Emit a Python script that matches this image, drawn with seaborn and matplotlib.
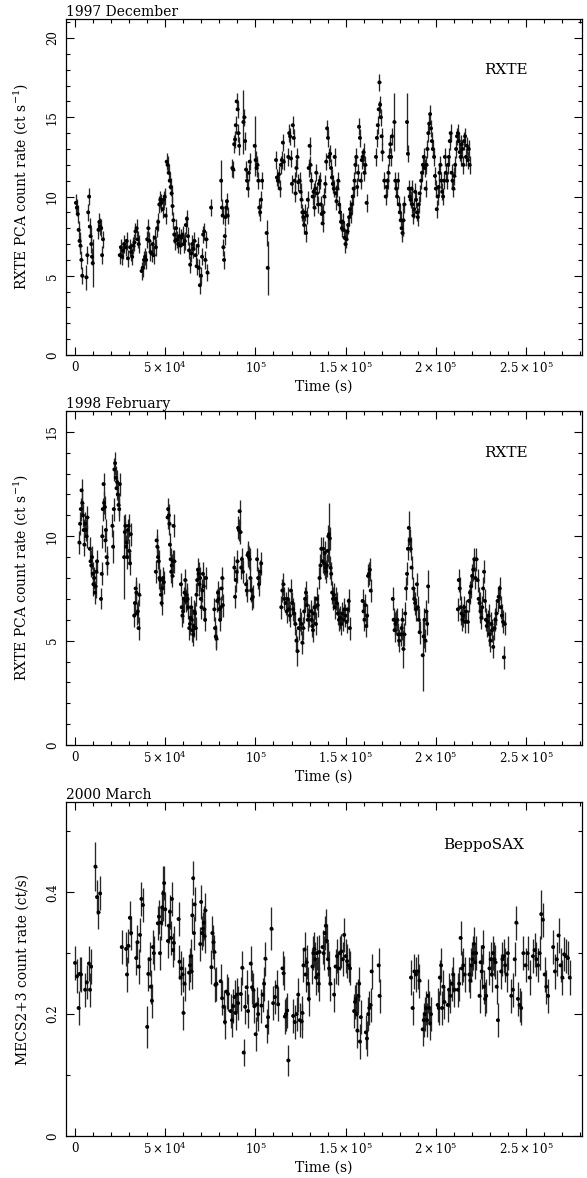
import numpy as np
import pandas as pd
import matplotlib
matplotlib.use("Agg")
import matplotlib.pyplot as plt
import seaborn as sns
from matplotlib.ticker import MultipleLocator

# ---------------- data (time in ks, count rate) ----------------
# Panel 1: 1997 December, RXTE PCA
t_dec97 = [
    0.5, 1.0, 1.5, 2.0, 2.5, 3.0, 3.5, 4.0,
    6.3, 6.8, 7.3, 7.8, 8.2, 8.6, 9.0, 9.4, 9.8,
    13.0, 13.5, 14.0, 14.5, 15.0, 15.5,
    24.8, 25.4, 26.0, 26.6, 27.2, 28.0, 28.6, 29.3, 30.5, 31.1, 31.7, 32.3, 32.9, 33.5, 34.1, 34.7, 35.3,
    36.9, 37.5, 38.2, 38.8, 39.4, 40.0, 40.6, 41.2, 41.8, 42.4, 43.0, 43.6, 44.2,
    44.8, 45.5, 46.1, 46.7, 47.3, 47.9, 48.5, 49.1, 49.7, 50.2,
    50.8, 51.3, 51.9, 52.5, 53.0, 53.5, 54.0, 54.5, 55.0, 55.5,
    56.0, 56.6, 57.2, 57.8, 58.4, 59.0, 59.6, 60.2, 60.8, 61.4, 62.0,
    62.6, 63.2, 63.8, 64.4, 65.0, 65.6, 66.2, 66.8, 67.4, 68.0, 68.6, 69.2, 69.8, 70.4, 71.0, 71.6, 72.2, 72.8, 73.4,
    75.4,
    81.0, 81.4, 81.8, 82.2, 82.6, 83.0, 83.4, 83.8, 84.2, 84.6,
    87.2, 87.7, 88.2, 88.7, 89.1, 89.6, 90.1, 90.6, 91.0,
    93.3, 93.8, 94.3, 94.8, 95.3, 95.8, 96.3, 96.8,
    99.6, 100.1, 100.6, 101.1, 101.6, 102.1, 102.6, 103.1, 103.7,
    106.2, 106.8,
    111.4, 111.9, 112.4, 113.0, 113.5, 114.1, 114.6, 115.2, 115.7,
    118.2, 118.7, 119.2, 119.7, 120.2, 120.7, 121.2, 121.7, 122.2, 122.7, 123.2, 123.7,
    124.5, 125.0, 125.5, 126.0, 126.5, 127.0, 127.5, 128.0, 128.5, 129.0, 129.5, 130.0, 130.5, 131.0,
    131.7, 132.2, 132.7, 133.2, 133.7, 134.2, 134.7, 135.2, 135.7, 136.2, 136.7, 137.2, 137.7, 138.2, 138.7, 139.2, 139.7, 140.2, 140.7,
    141.4, 141.9, 142.4, 142.9, 143.4, 143.9, 144.4, 144.9, 145.4, 145.9, 146.4, 146.9, 147.4, 147.9, 148.4, 148.9, 149.4, 149.9,
    150.4, 150.9, 151.4, 151.9, 152.4, 152.9, 153.4, 153.9, 154.4, 154.9, 155.4, 155.9, 156.4, 156.9, 157.4, 157.9,
    158.4, 158.9, 159.4, 159.9, 160.4, 160.9, 161.6,
    166.8, 167.3, 167.8, 168.3, 168.7, 169.1, 169.5, 169.9, 170.4,
    171.4,
    172.2, 172.7, 173.2, 173.7, 174.2, 174.7, 175.2, 175.7,
    177.0, 177.5, 178.0, 178.5, 179.0, 179.5, 180.0, 180.5, 181.0, 181.5, 182.0, 182.5,
    184.0, 184.5, 185.0, 185.5, 186.0, 186.5, 187.0, 187.5, 188.0, 188.5, 189.0, 189.5, 190.0, 190.5, 191.0,
    191.8, 192.3, 192.8, 193.3, 193.8, 194.3, 194.8, 195.3, 195.8, 196.3, 196.8, 197.3, 197.8, 198.3,
    199.0, 199.5, 200.0, 200.5, 201.0, 201.5, 202.0, 202.5, 203.0, 203.5, 204.0, 204.5, 205.0, 205.5,
    206.2, 206.7, 207.2, 207.7, 208.2, 208.7, 209.2, 209.7, 210.2, 210.7, 211.2, 211.7, 212.2,
    212.7, 213.2, 213.7, 214.2, 214.7, 215.2, 215.7, 216.2, 216.7, 217.2, 217.7, 218.2, 218.7,
]
r_dec97 = [
    9.6, 9.3, 8.9, 7.9, 7.2, 6.9, 6.0, 5.0,
    4.9, 6.3, 9.0, 10.0, 8.1, 7.5, 7.0, 6.2, 5.8,
    7.9, 8.4, 8.1, 8.0, 6.3, 7.3,
    6.3, 6.8, 6.2, 6.6, 7.0, 6.8, 7.2, 6.1, 6.8, 6.5, 6.2, 6.9, 7.1, 7.8, 8.0, 7.3, 7.0,
    5.3, 5.5, 6.0, 6.2, 6.0, 7.3, 8.0, 7.2, 6.5, 6.4, 7.0, 6.3, 7.4,
    6.8, 8.0, 8.4, 9.5, 9.8, 9.6, 9.2, 9.8, 10.0, 8.8,
    12.2, 12.0, 11.5, 11.0, 10.6, 10.2, 9.4, 8.5, 7.6, 7.2,
    8.0, 7.3, 7.0, 7.5, 6.9, 7.4, 7.6, 7.0, 7.2, 8.2, 8.6,
    7.5, 6.6, 5.7, 6.4, 7.0, 6.7, 7.2, 6.3, 5.6, 6.9, 5.5, 4.4, 5.0, 6.2, 7.6, 7.8, 6.0, 7.3, 5.2,
    9.3,
    11.0, 9.3, 8.8, 6.8, 6.0, 7.5, 8.7, 9.3, 9.7, 8.8,
    11.8, 11.7, 13.3, 13.6, 14.5, 16.0, 15.5, 14.0, 13.2,
    14.7, 15.0, 13.5, 11.7, 11.0, 10.5, 11.5, 12.2,
    13.2, 12.3, 11.8, 12.0, 11.0, 9.3, 9.0, 9.8, 11.0,
    7.7, 5.5,
    12.3, 11.2, 11.0, 11.4, 10.5, 12.0, 12.3, 13.4, 12.2,
    12.5, 14.0, 13.8, 12.4, 10.8, 14.5, 13.7, 11.0, 10.2, 11.8, 12.5, 10.9,
    11.0, 10.3, 9.8, 9.0, 8.7, 8.2, 9.0, 7.7, 8.8, 9.8, 11.8, 13.2, 12.0, 11.0,
    10.0, 10.3, 9.3, 10.5, 11.5, 10.2, 9.5, 10.8, 11.0, 9.5, 8.9, 8.3, 9.0, 10.0, 10.8, 12.2, 14.3, 13.7, 12.5,
    12.7, 11.8, 11.2, 10.8, 10.5, 12.5, 10.2, 9.7, 10.5, 11.0, 9.5, 9.0, 8.4, 8.0, 8.4, 7.9, 7.4, 7.0,
    7.3, 7.8, 8.2, 8.7, 9.2, 8.9, 9.5, 10.0, 10.5, 11.0, 12.0, 12.5, 10.6, 11.5, 14.4, 13.7,
    11.0, 12.3, 12.5, 12.8, 11.5, 12.0, 9.6,
    12.5, 13.7, 14.5, 15.5, 17.2, 15.8, 15.0, 13.8, 12.8,
    11.0,
    10.0, 10.6, 11.0, 11.5, 12.5, 13.3, 12.5, 13.8,
    14.7, 11.0, 10.5, 10.0, 11.0, 9.5, 9.0, 8.5, 8.0, 7.7, 8.5, 9.5,
    14.7, 12.7, 10.5, 10.0, 9.8, 10.5, 9.5, 8.8, 9.2, 10.3, 9.8, 9.0, 8.7, 9.5, 10.2,
    11.0, 11.5, 12.0, 12.5, 11.8, 10.5, 12.0, 13.0, 14.0, 14.6, 15.2, 14.3, 13.5, 13.0,
    12.5, 11.3, 10.5, 9.2, 10.0, 10.6, 11.5, 12.0, 11.0, 10.3, 10.0, 11.0, 12.5, 11.5,
    11.0, 12.0, 12.5, 13.5, 14.0, 11.5, 11.0, 10.5, 11.3, 12.0, 13.0, 13.8, 14.0,
    13.5, 12.8, 12.5, 13.3, 13.0, 12.0, 13.5, 13.8, 12.5, 13.2, 12.3, 13.0, 12.0,
]
err_dec97_typical = 0.55
err_dec97_large = {6.3: 0.8, 9.8: 1.5, 81.0: 1.3, 93.3: 2.0, 99.6: 1.9,
                   106.2: 0.8, 106.8: 1.7, 177.0: 1.8, 184.0: 1.8, 182.0: 1.0}

# Panel 2: 1998 February, RXTE PCA
t_feb98 = [
    2.4, 2.8, 3.2, 3.6, 4.0, 4.4, 4.8, 5.2, 5.6, 6.0, 6.4, 6.8,
    8.2, 8.6, 9.0, 9.4, 9.8, 10.2, 10.6, 11.0, 11.4, 11.8, 12.2,
    14.4, 14.8, 15.1, 15.4, 15.8, 16.1, 16.5, 16.8, 17.1, 17.5, 17.9,
    20.7, 21.1, 21.5, 21.8, 22.2, 22.6, 23.0, 23.3, 23.7, 24.1, 24.5, 24.8,
    27.2, 27.6, 27.9, 28.3, 28.6, 29.0, 29.3, 29.7, 30.1, 30.5, 30.9,
    32.8, 33.2, 33.6, 34.0, 34.4, 34.8, 35.2, 35.6,
    44.8, 45.2, 45.6, 46.0, 46.4, 46.8, 47.2, 47.6, 48.0, 48.4, 48.8, 49.2,
    51.3, 51.6, 52.0, 52.3, 52.6, 53.0, 53.3, 53.6, 54.0, 54.3, 54.6, 55.0,
    58.7, 59.1, 59.5, 59.9, 60.3, 60.7, 61.1, 61.5, 61.9, 62.3, 62.7,
    63.3, 63.7, 64.0, 64.4, 64.7, 65.1, 65.5, 65.8, 66.2, 66.5, 66.9,
    67.3, 67.7, 68.1, 68.5, 68.9, 69.3, 69.7, 70.1, 70.5, 70.9, 71.3, 71.7, 72.1, 72.6,
    77.2, 77.6, 78.0, 78.4, 78.8, 79.2, 79.6, 80.0, 80.4, 80.8, 81.2, 81.6, 81.9,
    88.3, 88.7, 89.1, 89.6, 90.0, 90.4, 90.8, 91.2, 91.7, 92.1, 92.5, 93.0,
    94.8, 95.2, 95.6, 96.0, 96.4, 96.8, 97.2, 97.6, 98.0, 98.5,
    100.9, 101.5, 102.0, 102.6, 103.2,
    114.3, 114.9, 115.5, 116.1, 116.7, 117.3, 117.9, 118.5, 119.1, 119.7, 120.3, 120.9, 121.5, 122.1, 122.7, 123.3, 123.9, 124.5,
    125.5, 126.0, 126.5, 127.0, 127.5, 128.0, 128.5, 129.0, 129.5,
    130.7, 131.1, 131.5, 131.9, 132.3, 132.7, 133.1, 133.5, 134.0, 134.5,
    135.5, 136.0, 136.5,
    137.2, 137.6, 138.0, 138.4, 138.8, 139.2, 139.6, 140.0, 140.4, 140.8, 141.2, 141.6, 142.0, 142.5, 143.0, 143.5,
    143.9, 144.5, 145.1, 145.7, 146.3, 146.9, 147.5, 148.1, 148.7, 149.3, 149.9, 150.5, 151.1, 151.7, 152.3,
    159.4, 159.9, 160.4, 160.9, 161.4, 161.9, 162.4, 162.9, 163.4, 163.9,
    176.1, 176.6, 177.1, 177.6, 178.1, 178.6, 179.1, 179.6,
    180.5, 181.0, 181.5, 182.0, 182.5, 183.0, 183.5, 184.0, 184.5, 185.0, 185.5, 186.0, 186.5,
    187.5, 188.0, 188.5, 189.0, 189.5, 190.0, 190.5, 191.0,
    192.7, 193.2, 193.7, 194.2, 194.7, 195.2, 195.7,
    212.2, 212.7, 213.2, 213.7, 214.2, 214.7, 215.2, 215.7, 216.2, 216.7,
    217.7, 218.3, 218.9, 219.5, 220.1, 220.7, 221.3, 221.9, 222.5, 223.1, 223.7, 224.2,
    224.7, 225.2, 225.7, 226.2, 226.7, 227.2, 227.7, 228.2, 228.7, 229.2, 229.7, 230.2, 230.7, 231.2,
    231.8, 232.4, 233.0, 233.6, 234.2, 234.8, 235.4, 236.0, 236.6, 237.2, 237.7, 238.2,
]
r_feb98 = [
    9.7, 10.6, 11.3, 12.2, 11.6, 11.0, 10.3, 9.6, 10.6, 10.3, 10.0, 10.9,
    9.4, 8.8, 8.6, 9.0, 8.2, 7.7, 8.0, 7.3, 7.6, 8.3, 8.8,
    7.0, 8.2, 10.0, 11.3, 12.5, 11.6, 11.4, 9.8, 10.3, 9.0, 8.7,
    10.5, 9.5, 11.3, 13.2, 13.5, 12.8, 12.3, 12.6, 12.0, 11.5, 11.3, 12.5,
    9.0, 10.2, 10.5, 9.5, 9.7, 9.0, 10.3, 10.5, 9.3, 8.7, 10.1,
    6.2, 6.8, 7.5, 7.3, 6.3, 6.4, 5.6, 7.2,
    8.3, 9.8, 9.5, 9.0, 8.8, 8.0, 7.9, 7.2, 6.8, 7.5, 8.0, 7.8,
    10.9, 11.3, 11.0, 10.6, 9.6, 8.9, 8.3, 8.6, 8.1, 8.8, 10.5, 8.8,
    7.7, 6.6, 6.2, 6.4, 7.0, 7.3, 7.9, 6.9, 7.2, 7.0, 6.6,
    5.6, 5.8, 6.1, 6.6, 6.0, 5.5, 5.3, 5.7, 6.4, 6.3, 5.6,
    7.2, 7.9, 8.4, 8.2, 7.7, 8.0, 7.0, 6.6, 7.4, 8.2, 7.6, 6.5, 6.0, 8.0,
    6.5, 5.6, 5.2, 5.1, 6.9, 7.3, 7.0, 6.5, 6.0, 6.6, 7.5, 8.0, 6.7,
    8.5, 7.1, 7.9, 8.3, 8.8, 10.4, 10.3, 11.2, 10.2, 8.5, 8.9, 8.3,
    7.7, 7.4, 9.1, 9.2, 9.0, 8.9, 8.0, 7.4, 7.0, 7.1,
    8.9, 8.0, 7.7, 8.3, 8.7,
    6.6, 7.4, 7.7, 7.0, 6.8, 6.4, 7.0, 6.5, 6.2, 7.4, 6.8, 6.5, 6.3, 5.8, 5.0, 4.5, 5.6, 6.0,
    5.8, 4.9, 5.6, 6.4, 7.0, 7.3, 6.7, 6.0, 6.2,
    6.4, 6.0, 5.7, 5.5, 6.3, 6.6, 6.6, 5.8, 7.0, 6.7,
    8.0, 8.6, 9.4,
    8.8, 9.4, 8.7, 9.2, 8.5, 8.3, 8.6, 9.3, 10.0, 10.1, 9.9, 8.5, 8.2, 7.3, 7.0, 7.2,
    6.6, 7.0, 6.8, 6.3, 6.0, 6.1, 5.8, 6.3, 6.0, 6.5, 6.2, 5.9, 6.5, 6.9, 5.6,
    6.9, 6.4, 6.0, 6.7, 5.7, 6.2, 8.1, 8.2, 8.4, 7.4,
    7.0, 6.0, 5.5, 5.8, 5.9, 6.0, 5.3, 5.0,
    5.3, 5.6, 6.0, 4.6, 5.3, 6.3, 7.5, 8.2, 9.4, 10.4, 9.8, 9.4, 8.5,
    7.5, 7.0, 6.8, 6.5, 7.7, 6.6, 6.0, 5.4,
    4.3, 5.2, 6.0, 5.0, 6.4, 5.8, 7.6,
    6.5, 7.9, 7.5, 6.6, 6.3, 6.0, 6.2, 6.6, 5.9, 6.4,
    5.9, 6.9, 7.3, 7.6, 8.1, 8.4, 8.9, 8.0, 8.9, 7.9, 7.0, 6.8,
    6.4, 6.1, 6.6, 7.5, 8.3, 6.9, 6.0, 5.7, 5.9, 6.2, 5.3, 5.0, 5.8, 5.5,
    4.7, 5.6, 6.0, 6.3, 6.9, 7.1, 7.5, 6.6, 6.2, 5.9, 4.2, 5.8,
]
err_feb98_typical = 0.55
err_feb98_large = {27.2: 2.0, 192.7: 1.7, 140.8: 1.5, 182.0: 0.9, 21.1: 0.8,
                   14.4: 0.5, 185.0: 0.8, 195.7: 0.8, 123.3: 0.7}

# Panel 3: 2000 March, BeppoSAX MECS2+3
t_mar00 = [
    0.0, 1.1, 2.0, 2.6, 3.3, 5.6, 6.5, 7.7, 8.3, 8.9, 11.3, 12.2, 13.0, 13.9,
    25.9, 28.3, 28.8, 29.6, 30.4, 31.1,
    33.9, 34.6, 35.3, 36.0, 36.8, 37.6,
    40.0, 40.6, 41.3, 42.0, 42.6, 43.2, 43.7,
    45.9, 46.5, 47.1, 47.7, 48.3, 48.9, 49.4, 50.0,
    51.5, 52.0, 52.6, 53.2, 53.7, 54.3, 54.8,
    57.4, 57.9, 58.5, 59.0, 59.6, 60.1, 60.7,
    63.2, 63.7, 64.1, 64.6, 65.0, 65.5, 65.9, 66.3,
    69.4, 69.9, 70.4, 70.9, 71.4, 71.8, 72.2,
    75.6, 76.1, 76.7, 77.2, 77.8, 78.3,
    80.7, 81.5, 82.3, 83.1, 84.0, 84.8,
    86.3, 87.0, 87.7, 88.4, 89.0, 89.7, 90.4,
    91.9, 92.7, 93.5, 94.3, 95.1, 95.9,
    97.4, 98.1, 98.8, 99.4, 100.1, 100.8, 101.5,
    103.3, 104.0, 104.8, 105.5, 106.3, 107.0,
    108.9, 109.8, 110.8, 111.7, 112.6,
    115.0, 115.6, 116.3, 116.9, 117.6, 118.2,
    120.9, 121.8, 122.8, 123.7, 124.6, 125.6,
    126.0, 126.6, 127.2, 127.8, 128.4, 129.0, 129.6,
    131.6, 132.1, 132.6, 133.1, 133.6, 134.1, 134.6, 135.1, 135.5,
    137.2, 137.8, 138.4, 139.0, 139.6, 140.2, 140.8, 141.5,
    143.6, 144.4, 145.2, 146.0, 146.8, 147.6, 148.4, 149.2, 150.0, 150.8, 151.6, 152.4,
    154.7, 155.2, 155.6, 156.1, 156.5, 157.0, 157.5, 157.9, 158.4,
    161.2, 161.8, 162.5, 163.1, 163.8, 164.4,
    168.3, 168.8,
    186.2, 187.1, 188.1, 189.0, 190.0, 190.9,
    192.7, 193.3, 193.9, 194.5, 195.1, 195.6, 196.2, 196.8, 197.3,
    201.0, 201.6, 202.2, 202.9, 203.5, 204.1, 204.7,
    206.6, 207.3, 208.1, 208.8, 209.6, 210.3,
    212.2, 212.9, 213.7, 214.4, 215.2, 215.9,
    218.6, 219.1, 219.7, 220.2, 220.7, 221.2, 221.8, 222.3,
    224.2, 224.8, 225.4, 226.1, 226.7, 227.3, 227.9,
    229.7, 230.4, 231.0, 231.7, 232.4, 233.0, 233.7, 234.4,
    236.2, 236.9, 237.7, 238.4, 239.2, 239.9,
    241.8, 242.7, 243.7, 244.6, 245.5, 246.4,
    247.3, 248.5, 249.7, 250.8, 252.0,
    253.8, 254.7, 255.7, 256.6, 257.5,
    258.4, 259.3, 260.3, 261.2, 262.2,
    265.0, 266.0, 267.0, 268.0, 269.1, 270.1, 271.1, 272.1, 273.2, 274.2,
]
r_mar00 = [
    0.284, 0.262, 0.210, 0.266, 0.265, 0.240, 0.252, 0.283, 0.240, 0.278, 0.442, 0.392, 0.367, 0.398,
    0.310, 0.307, 0.265, 0.312, 0.358, 0.333,
    0.292, 0.318, 0.278, 0.330, 0.389, 0.379,
    0.179, 0.266, 0.290, 0.245, 0.222, 0.310, 0.300,
    0.349, 0.360, 0.300, 0.350, 0.375, 0.398, 0.415, 0.372,
    0.320, 0.345, 0.368, 0.325, 0.389, 0.305, 0.317,
    0.356, 0.286, 0.260, 0.275, 0.265, 0.202, 0.250,
    0.268, 0.280, 0.295, 0.270, 0.362, 0.423, 0.333, 0.380,
    0.315, 0.384, 0.333, 0.340, 0.350, 0.328, 0.370,
    0.277, 0.333, 0.318, 0.302, 0.248, 0.250,
    0.254, 0.226, 0.212, 0.187, 0.237, 0.233,
    0.205, 0.190, 0.213, 0.228, 0.202, 0.232, 0.218,
    0.233, 0.276, 0.137, 0.212, 0.244, 0.205,
    0.283, 0.244, 0.240, 0.213, 0.167, 0.216, 0.200,
    0.214, 0.232, 0.250, 0.291, 0.180, 0.195,
    0.340, 0.218, 0.228, 0.245, 0.216,
    0.275, 0.267, 0.196, 0.200, 0.206, 0.124,
    0.197, 0.187, 0.200, 0.232, 0.190, 0.188,
    0.202, 0.280, 0.306, 0.265, 0.285, 0.250, 0.225,
    0.278, 0.300, 0.307, 0.290, 0.260, 0.300, 0.265, 0.250, 0.302,
    0.310, 0.300, 0.333, 0.345, 0.320, 0.290, 0.275, 0.250,
    0.232, 0.278, 0.295, 0.275, 0.300, 0.303, 0.290, 0.330, 0.295, 0.287, 0.280, 0.275,
    0.205, 0.220, 0.225, 0.200, 0.173, 0.230, 0.250, 0.155, 0.195,
    0.170, 0.160, 0.200, 0.210, 0.215, 0.270,
    0.280, 0.230,
    0.260, 0.210, 0.270, 0.265, 0.270, 0.255,
    0.175, 0.190, 0.200, 0.210, 0.190, 0.230, 0.210, 0.185, 0.200,
    0.215, 0.210, 0.260, 0.280, 0.210, 0.245, 0.220,
    0.215, 0.240, 0.230, 0.250, 0.265, 0.240,
    0.240, 0.250, 0.325, 0.275, 0.280, 0.265,
    0.265, 0.255, 0.280, 0.290, 0.300, 0.315, 0.285, 0.300,
    0.230, 0.285, 0.270, 0.310, 0.245, 0.225, 0.230,
    0.275, 0.290, 0.265, 0.300, 0.290, 0.285, 0.245, 0.190,
    0.270, 0.290, 0.295, 0.280, 0.265, 0.300,
    0.230, 0.240, 0.290, 0.350, 0.225, 0.215,
    0.210, 0.300, 0.280, 0.300, 0.260,
    0.295, 0.305, 0.290, 0.280, 0.300,
    0.364, 0.355, 0.265, 0.245, 0.230,
    0.310, 0.270, 0.290, 0.329, 0.280, 0.260, 0.298, 0.295, 0.292, 0.260,
]
err_mar00_typical = 0.028
err_mar00_large = {11.3: 0.04, 40.0: 0.035, 93.5: 0.022, 118.2: 0.026,
                   108.9: 0.035, 258.4: 0.04, 48.9: 0.045}

titles = ["1997 December", "1998 February", "2000 March"]
instruments = ["RXTE", "RXTE", "BeppoSAX"]
ylabels = [r"RXTE PCA count rate (ct s$^{-1}$)",
           r"RXTE PCA count rate (ct s$^{-1}$)",
           "MECS2+3 count rate (ct/s)"]
x_ticks = [0, 5e4, 1e5, 1.5e5, 2e5, 2.5e5]
x_ticklabels = ["0", r"$5\times10^4$", r"$10^5$", r"$1.5\times10^5$",
                r"$2\times10^5$", r"$2.5\times10^5$"]

# ---------------- style ----------------
sns.set_style("ticks")
plt.rcParams["font.family"] = ["DejaVu Serif"]
plt.rcParams["mathtext.fontset"] = "dejavuserif"
for key in ["text.color", "axes.labelcolor", "xtick.color", "ytick.color",
            "axes.edgecolor", "axes.titlecolor"]:
    plt.rcParams[key] = "black"

fig = plt.figure(figsize=(5.87, 11.78), dpi=100)
W, H = 587.0, 1178.0
ax_px = [(66, 19, 582, 355), (66, 411, 582, 745), (66, 802, 582, 1136)]
ylims = [(0, 21.2), (0, 16.0), (0, 0.548)]
ymaj = [5, 5, 0.2]
ymin = [1, 1, 0.1]
inst_pos = [(0.853, 0.848), (0.853, 0.874), (0.81, 0.871)]

datasets = [
    (t_dec97, r_dec97, err_dec97_typical, err_dec97_large),
    (t_feb98, r_feb98, err_feb98_typical, err_feb98_large),
    (t_mar00, r_mar00, err_mar00_typical, err_mar00_large),
]

for i, (tks, rate, etyp, ebig) in enumerate(datasets):
    assert len(tks) == len(rate), (i, len(tks), len(rate))
    l, tp, rt, bt = ax_px[i]
    ax = fig.add_axes([l / W, 1 - bt / H, (rt - l) / W, (bt - tp) / H])
    df = pd.DataFrame({"time": np.array(tks) * 1e3, "rate": rate,
                       "err": [ebig.get(t, etyp) for t in tks]})
    ax.errorbar(df["time"], df["rate"], yerr=df["err"], xerr=700, fmt="none",
                ecolor="#262626", elinewidth=0.95, capsize=0, zorder=2)
    sns.scatterplot(data=df, x="time", y="rate", ax=ax, s=8, color="black",
                    edgecolor="none", legend=False, zorder=3)
    ax.set_xlim(-5000, 2.81e5)
    ax.set_ylim(*ylims[i])
    ax.set_xticks(x_ticks)
    ax.set_xticklabels(x_ticklabels)
    ax.xaxis.set_minor_locator(MultipleLocator(1e4))
    ax.yaxis.set_major_locator(MultipleLocator(ymaj[i]))
    ax.yaxis.set_minor_locator(MultipleLocator(ymin[i]))
    if i == 2:
        ax.set_yticks([0, 0.2, 0.4])
        ax.set_yticklabels(["0", "0.2", "0.4"])
        ax.yaxis.set_minor_locator(MultipleLocator(0.1))
    ax.tick_params(which="both", direction="in", top=True, right=True,
                   colors="black", labelcolor="black", width=0.8, labelsize=8.5)
    ax.tick_params(which="major", length=5.5)
    ax.tick_params(which="minor", length=2.8)
    ax.tick_params(axis="x", pad=4)
    ax.tick_params(axis="y", labelrotation=90, pad=5)
    for lab in ax.get_yticklabels():
        lab.set_va("center")
    for sp in ax.spines.values():
        sp.set_linewidth(0.9)
        sp.set_color("black")
    ax.set_xlabel("Time (s)", fontsize=10, va="top", color="black")
    ax.xaxis.set_label_coords(0.5, -0.074)
    ax.set_ylabel(ylabels[i], fontsize=10, color="black")
    ax.yaxis.set_label_coords(-0.07, 0.5)
    ax.set_title(titles[i], loc="left", fontsize=10, pad=2, color="black")
    ax.text(inst_pos[i][0], inst_pos[i][1], instruments[i], transform=ax.transAxes,
            ha="center", va="center", fontsize=11, color="black")

fig.savefig("out.png", dpi=100)
